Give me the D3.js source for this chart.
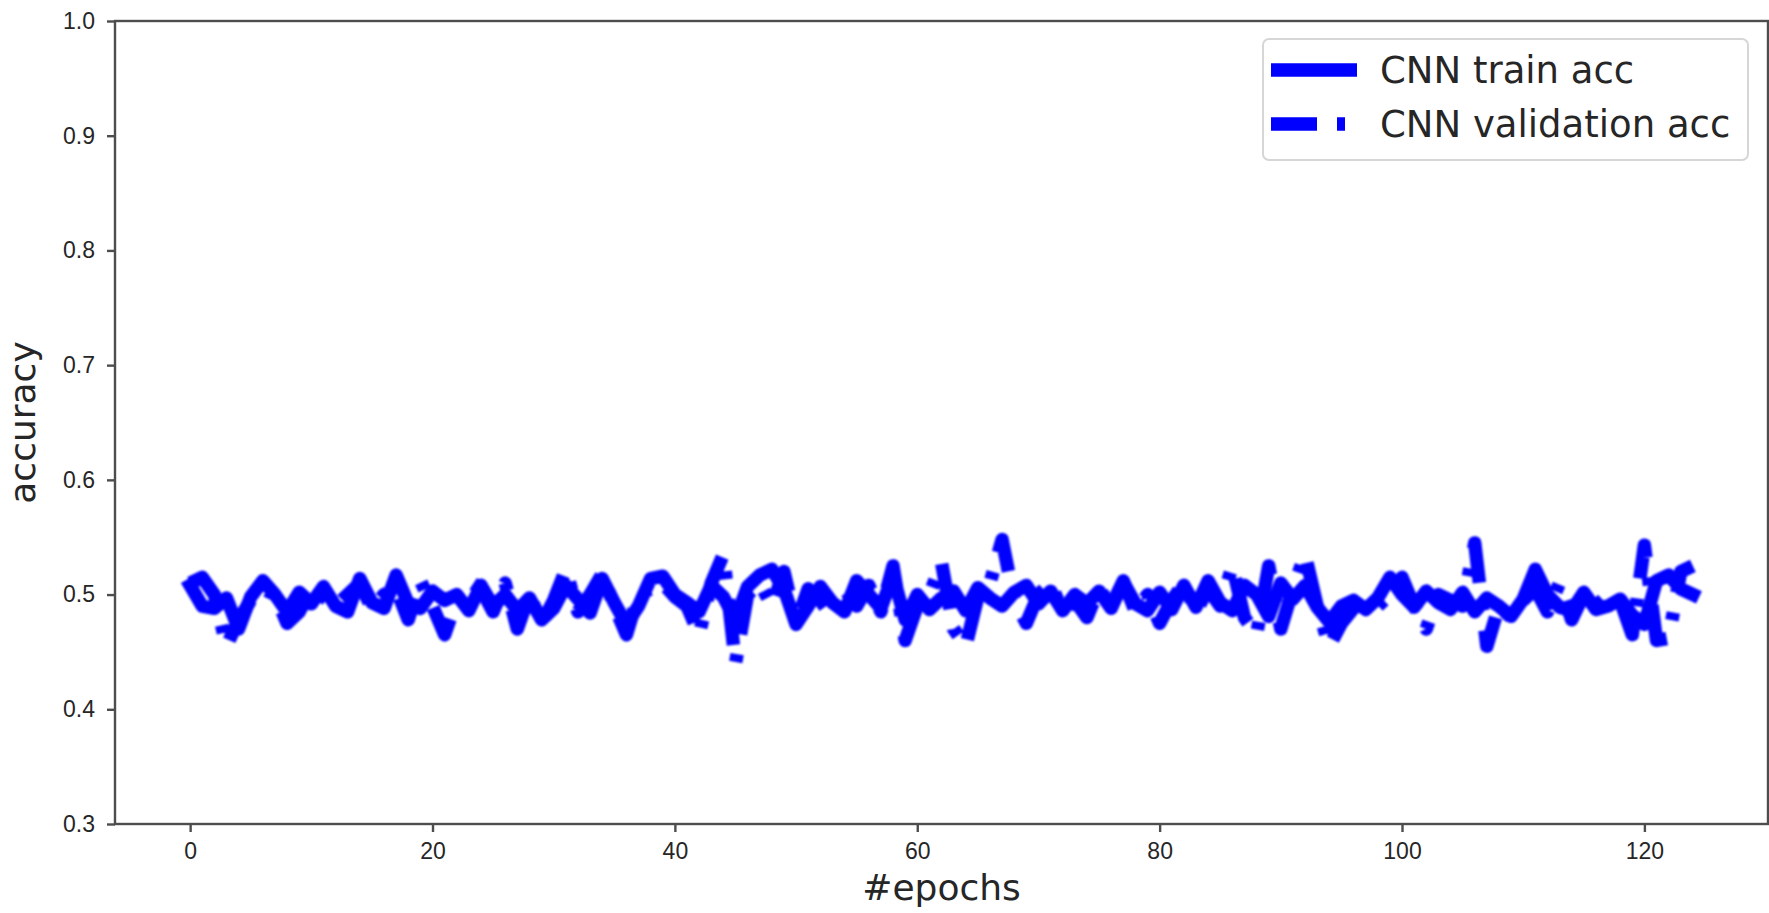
<!DOCTYPE html>
<html>
<head>
<meta charset="utf-8">
<script src="https://cdn.jsdelivr.net/npm/d3@7"></script>
<style>
    body { margin: 0; background: #fff; }
    svg { display: block; font-family: 'DejaVu Sans', sans-serif; }
    .axis text { fill: #262626; font-size: 23px; }
    .axis line, .axis path { stroke: #4d4d4d; stroke-width: 2.4; }
</style>
</head>
<body>
<svg id="chart" width="1769" height="913"></svg>
<script>
const epochs = d3.range(125);
const trainAcc = [
    0.508, 0.490, 0.488, 0.497, 0.470, 0.498, 0.512, 0.500, 0.485, 0.502,
    0.492, 0.507, 0.490, 0.485, 0.514, 0.493, 0.488, 0.517, 0.492, 0.488,
    0.503, 0.495, 0.500, 0.486, 0.508, 0.490, 0.500, 0.486, 0.497, 0.478,
    0.488, 0.508, 0.496, 0.484, 0.514, 0.493, 0.474, 0.490, 0.514, 0.516,
    0.500, 0.493, 0.485, 0.508, 0.498, 0.478, 0.507, 0.517, 0.522, 0.505,
    0.474, 0.490, 0.507, 0.493, 0.485, 0.512, 0.500, 0.488, 0.517, 0.478,
    0.500, 0.487, 0.497, 0.503, 0.486, 0.506, 0.497, 0.490, 0.502, 0.508,
    0.492, 0.503, 0.486, 0.500, 0.492, 0.503, 0.488, 0.511, 0.492, 0.486,
    0.502, 0.487, 0.508, 0.489, 0.512, 0.493, 0.486, 0.508, 0.500, 0.481,
    0.510, 0.496, 0.508, 0.489, 0.476, 0.490, 0.495, 0.487, 0.497, 0.515,
    0.500, 0.489, 0.503, 0.493, 0.487, 0.502, 0.485, 0.497, 0.490, 0.481,
    0.496, 0.522, 0.500, 0.489, 0.486, 0.502, 0.487, 0.490, 0.496, 0.482,
    0.474, 0.512, 0.517, 0.505, 0.500
];
const valAcc = [
    0.510, 0.515, 0.500, 0.455, 0.478, 0.495, 0.505, 0.500, 0.475, 0.485,
    0.505, 0.498, 0.490, 0.500, 0.510, 0.488, 0.500, 0.505, 0.478, 0.512,
    0.490, 0.465, 0.495, 0.512, 0.505, 0.485, 0.510, 0.470, 0.500, 0.475,
    0.495, 0.522, 0.485, 0.500, 0.518, 0.490, 0.465, 0.500, 0.505, 0.510,
    0.498, 0.490, 0.465, 0.510, 0.535, 0.440, 0.500, 0.510, 0.490, 0.520,
    0.475, 0.505, 0.495, 0.480, 0.505, 0.490, 0.508, 0.485, 0.525, 0.460,
    0.490, 0.500, 0.528, 0.470, 0.455, 0.498, 0.510, 0.548, 0.495, 0.475,
    0.500, 0.510, 0.485, 0.495, 0.480, 0.505, 0.490, 0.512, 0.485, 0.500,
    0.475, 0.495, 0.510, 0.485, 0.505, 0.490, 0.525, 0.480, 0.465, 0.525,
    0.470, 0.505, 0.535, 0.490, 0.455, 0.475, 0.488, 0.495, 0.490, 0.500,
    0.515, 0.490, 0.470, 0.500, 0.495, 0.490, 0.545, 0.455, 0.490, 0.480,
    0.495, 0.505, 0.485, 0.510, 0.478, 0.500, 0.490, 0.500, 0.495, 0.465,
    0.543, 0.460, 0.462, 0.520, 0.525
];
const xTicks = [0, 20, 40, 60, 80, 100, 120];
const yTicks = [0.3, 0.4, 0.5, 0.6, 0.7, 0.8, 0.9, 1.0];
const seriesNames = ['CNN train acc', 'CNN validation acc'];

const plot = { left: 115, right: 1768, top: 21, bottom: 824 };
const lineColor = '#0000ff';
const lineWidth = 13.5;
const dashDot = '46,20,8,20';

const svg = d3.select('#chart');

const x = d3.scaleLinear()
    .domain([-6.2, 130.2])
    .range([plot.left, plot.right]);
const y = d3.scaleLinear()
    .domain([0.3, 1.0])
    .range([plot.bottom, plot.top]);

const defs = svg.append('defs');
defs.append('clipPath').attr('id', 'plot-clip')
    .append('rect')
    .attr('x', plot.left)
    .attr('y', plot.top)
    .attr('width', plot.right - plot.left)
    .attr('height', plot.bottom - plot.top);
// the source image is an upscaled png, so soften the lines a bit
defs.append('filter').attr('id', 'soft')
    .append('feGaussianBlur')
    .attr('stdDeviation', 0.8);

const line = d3.line()
    .x((d) => x(d[0]))
    .y((d) => y(d[1]));

const lines = svg.append('g')
    .attr('clip-path', 'url(#plot-clip)')
    .append('g')
    .attr('filter', 'url(#soft)');
lines.append('path')
    .datum(epochs.map((e, i) => [e, trainAcc[i]]))
    .attr('d', line)
    .attr('fill', 'none')
    .attr('stroke', lineColor)
    .attr('stroke-width', lineWidth)
    .attr('stroke-linejoin', 'round')
    .attr('stroke-linecap', 'square');
lines.append('path')
    .datum(epochs.map((e, i) => [e, valAcc[i]]))
    .attr('d', line)
    .attr('fill', 'none')
    .attr('stroke', lineColor)
    .attr('stroke-width', lineWidth)
    .attr('stroke-linejoin', 'round')
    .attr('stroke-dasharray', dashDot);

// axes
svg.append('g')
    .attr('class', 'axis xAxis')
    .attr('transform', `translate(0,${plot.bottom})`)
    .call(d3.axisBottom(x).tickValues(xTicks).tickSize(8).tickPadding(11).tickSizeOuter(0))
    .call((g) => g.select('.domain').remove());
svg.append('g')
    .attr('class', 'axis yAxis')
    .attr('transform', `translate(${plot.left},0)`)
    .call(d3.axisLeft(y).tickValues(yTicks).tickFormat(d3.format('.1f')).tickSize(8).tickPadding(12).tickSizeOuter(0))
    .call((g) => g.select('.domain').remove());

// frame
svg.append('rect')
    .attr('x', plot.left)
    .attr('y', plot.top)
    .attr('width', plot.right - plot.left)
    .attr('height', plot.bottom - plot.top)
    .attr('fill', 'none')
    .attr('stroke', '#4d4d4d')
    .attr('stroke-width', 2.4);

svg.append('text')
    .attr('x', (plot.left + plot.right) / 2)
    .attr('y', 900)
    .attr('text-anchor', 'middle')
    .attr('font-size', 36)
    .attr('fill', '#262626')
    .text('#epochs');
svg.append('text')
    .attr('transform', `translate(35,${(plot.top + plot.bottom) / 2}) rotate(-90)`)
    .attr('text-anchor', 'middle')
    .attr('font-size', 36)
    .attr('fill', '#262626')
    .text('accuracy');

// legend
const legend = svg.append('g').attr('class', 'legend');
legend.append('rect')
    .attr('x', 1263)
    .attr('y', 39)
    .attr('width', 485)
    .attr('height', 121)
    .attr('rx', 6)
    .attr('fill', 'rgba(255,255,255,0.8)')
    .attr('stroke', '#d6d6d6')
    .attr('stroke-width', 2);

const rowY = [70, 124];
seriesNames.forEach((name, i) => {
    legend.append('line')
        .attr('x1', 1271)
        .attr('x2', 1357)
        .attr('y1', rowY[i])
        .attr('y2', rowY[i])
        .attr('stroke', lineColor)
        .attr('stroke-width', lineWidth)
        .attr('stroke-dasharray', i === 1 ? dashDot : null);
    legend.append('text')
        .attr('x', 1380)
        .attr('y', rowY[i] + 13)
        .attr('font-size', 37)
        .attr('fill', '#262626')
        .text(name);
});
</script>
</body>
</html>
